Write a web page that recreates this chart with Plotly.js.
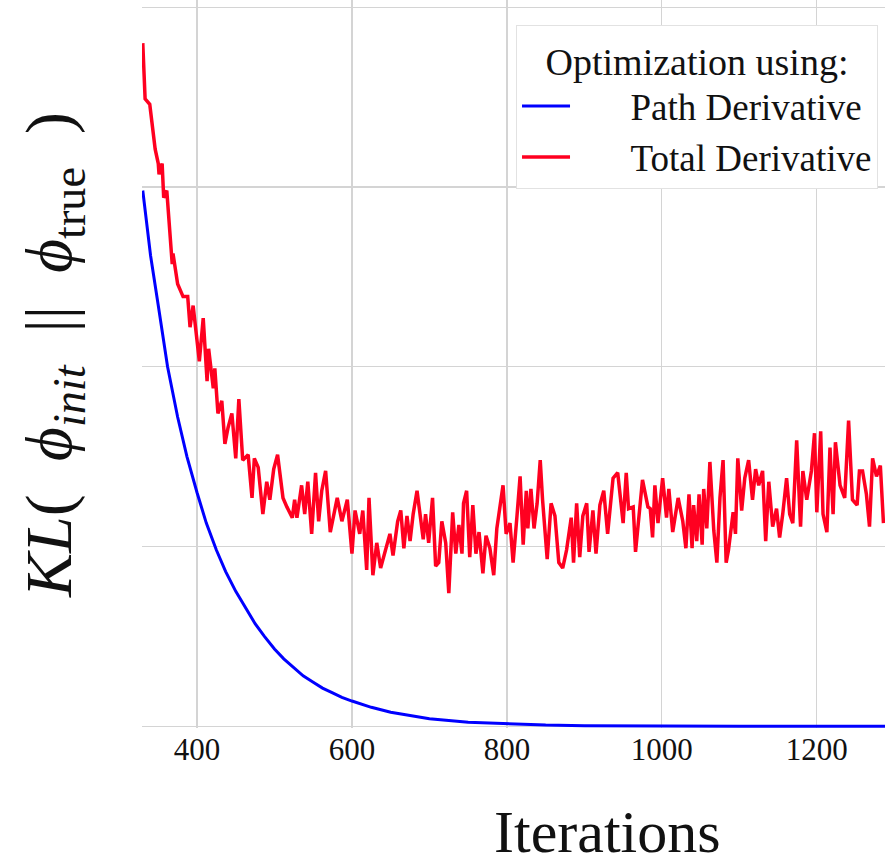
<!DOCTYPE html>
<html>
<head>
<meta charset="utf-8">
<script src="https://cdn.plot.ly/plotly-3.0.1.min.js"></script>
<style>html,body{margin:0;padding:0;background:#fff;}#chart{width:885px;height:864px;}</style>
</head>
<body>
<div id="chart"></div>
<script>
// Path Derivative (smooth decay)
const pathIter = [330,340,350,362,375,387,400,412,425,437,450,462,475,487,500,512,525,537,550,562,575,587,600,625,650,675,700,750,800,850,900,1000,1100,1288];
const pathKL   = [2.98,2.62,2.34,2.00,1.72,1.50,1.30,1.13,0.98,0.86,0.75,0.66,0.57,0.50,0.43,0.375,0.325,0.28,0.245,0.212,0.185,0.16,0.14,0.105,0.078,0.058,0.042,0.022,0.012,0.006,0.003,0.001,0,0];

// Total Derivative (noisy)
const totalIter = [330,333,339,346,350,351,355,357,361,368,369,375,382,388,391,395,403,408,413,415,421,423,427,432,436,440,445,450,454,459,466,471,474,479,485,490,494,499,504,511,516,523,526,529,535,539,543,548,553,557,561,566,572,581,587,594,600,604,610,614,619,622,627,632,637,643,649,653,659,
663,667,671,675,679,684,692,695,699,704,708,712,716,721,725,730,734,738,742,744,748,752,756,760,764,769,773,778,783,787,795,799,804,808,813,817,821,825,827,831,835,839,843,846,852,857,862,867,872,877,883,886,890,894,898,903,906,911,915,920,925,930,937,943,950,954,957,963,966,970,975,982,
985,988,991,995,1001,1006,1009,1014,1021,1027,1031,1035,1039,1041,1045,1048,1052,1054,1058,1062,1067,1071,1075,1079,1083,1086,1092,1095,1098,1103,1107,1112,1117,1121,1125,1130,1134,1138,1143,1148,1152,1156,1161,1165,1169,1174,1179,1182,1187,1193,1197,1200,1205,1208,1213,1217,1221,1224,1230,1236,1241,1246,1252,1255,1259,1264,1268,1272,1277,1282,1286];
const totalKL = [3.80,3.49,3.46,3.21,3.13,3.07,3.13,2.94,2.98,2.57,2.63,2.46,2.39,2.39,2.22,2.34,2.03,2.27,1.92,2.10,1.88,1.99,1.74,1.81,1.57,1.66,1.74,1.49,1.82,1.48,1.51,1.27,1.49,1.44,1.18,1.36,1.26,1.43,1.51,1.27,1.22,1.16,1.26,1.16,1.34,1.18,1.36,1.07,1.41,1.14,1.31,1.42,1.08,1.27,1.14,1.26,0.96,1.20,1.07,1.20,0.87,1.27,0.84,1.02,0.88,0.98,1.07,0.95,1.14,
1.20,0.99,1.17,1.03,1.18,1.31,1.04,1.18,1.02,1.27,0.89,0.91,1.14,1.02,0.74,1.19,0.96,1.12,0.96,1.24,1.31,0.94,1.23,0.96,1.08,0.85,1.06,0.99,0.84,1.10,1.34,1.07,1.13,0.91,1.17,1.39,1.01,1.31,1.10,1.32,1.10,1.24,1.48,1.26,0.93,1.24,1.17,0.91,0.88,0.98,1.16,0.91,1.24,0.94,1.17,1.24,0.97,1.20,0.96,1.23,1.31,1.07,1.38,1.41,1.13,1.41,1.21,1.22,0.97,1.13,1.37,1.22,
1.21,1.05,1.34,1.13,1.38,1.16,1.32,1.08,1.27,1.14,0.99,1.29,0.99,1.23,1.03,1.29,1.01,1.32,1.10,1.47,1.09,0.91,1.27,1.48,0.91,0.98,1.19,1.07,1.49,1.20,1.38,1.48,1.26,1.43,1.34,1.42,1.03,1.36,1.11,1.21,1.05,1.18,1.38,1.18,1.13,1.59,1.11,1.42,1.26,1.42,1.63,1.19,1.64,1.18,1.08,1.55,1.18,1.58,1.34,1.27,1.70,1.26,1.23,1.42,1.42,1.29,1.11,1.49,1.39,1.45,1.13];

const xTicks = [400,600,800,1000,1200];
const yGrid  = [0,1,2,3,4];
const seriesNames = ['Path Derivative','Total Derivative'];
const pad = '\u00a0\u00a0\u00a0\u00a0\u00a0\u00a0';

const traces = [
  {x: pathIter, y: pathKL, type:'scatter', mode:'lines', name: pad + seriesNames[0],
   line:{color:'#0000ff', width:3}},
  {x: totalIter, y: totalKL, type:'scatter', mode:'lines', name: pad + seriesNames[1],
   line:{color:'#ff0020', width:3.5}}
];

const nb = '\u00a0';
const layout = {
  width:885, height:864,
  margin:{l:142, r:0, t:0, b:136},
  paper_bgcolor:'#ffffff', plot_bgcolor:'#ffffff',
  showlegend:true,
  xaxis:{range:[329,1288], tickvals:xTicks, ticktext:xTicks.map(String),
    showgrid:true, gridcolor:'#d4d4d4', gridwidth:1.2, zeroline:false, showline:false, ticks:'',
    tickfont:{family:'Liberation Serif, serif', size:31, color:'#111'}},
  yaxis:{range:[-0.01,4.04], tickvals:yGrid, showticklabels:false,
    showgrid:true, gridcolor:'#d4d4d4', gridwidth:1.2, zeroline:false, showline:false, ticks:''},
  legend:{x:0.9906, xanchor:'right', y:0.9657, yanchor:'top',
    bgcolor:'#ffffff', bordercolor:'#e2e2e2', borderwidth:1,
    font:{family:'Liberation Serif, serif', size:37, color:'#111'},
    title:{text:'Optimization using:', side:'top center', font:{family:'Liberation Serif, serif', size:38, color:'#111'}},
    itemwidth:48, tracegroupgap:0},
  annotations:[
    {text:'Iterations', xref:'paper', yref:'paper', x:(607-142)/743, y:(728-832)/728,
     xanchor:'center', yanchor:'middle', showarrow:false,
     font:{family:'Liberation Serif, serif', size:60, color:'#111'}},
    {text:'<i>KL</i>(' + nb + nb + '<i>ϕ</i><sub><i>init</i></sub>' + nb + nb + '||' + nb + nb + '<i>ϕ</i><sub>true</sub>' + nb + nb + ')',
     xref:'paper', yref:'paper',
     x:(53-142)/743, y:(728-355)/728, xanchor:'center', yanchor:'middle', textangle:-90, showarrow:false,
     font:{family:'Liberation Serif, serif', size:66, color:'#111'}}
  ]
};

Plotly.newPlot('chart', traces, layout, {displayModeBar:false, staticPlot:true});
</script>
</body>
</html>
